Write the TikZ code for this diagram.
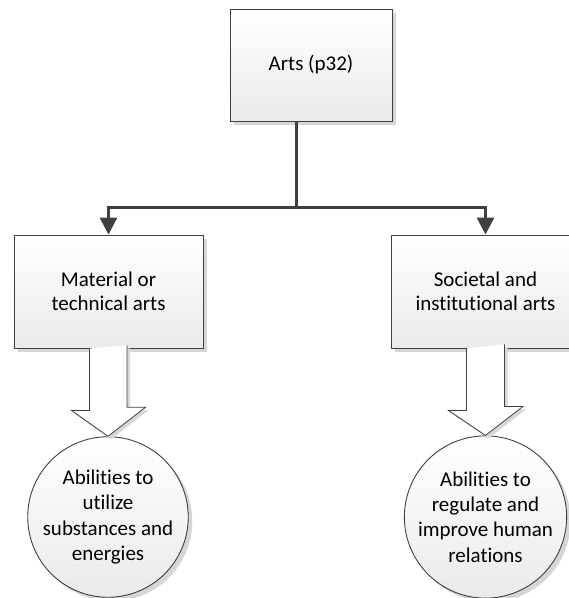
\documentclass[tikz,border=0pt]{standalone}
\usepackage{fontspec}
\setmainfont{Carlito}[Ligatures=NoCommon]
\usetikzlibrary{arrows.meta,shadows}

\definecolor{edgegray}{HTML}{404040}
\definecolor{shadowgray}{HTML}{D6D6D6}
\definecolor{fillbottom}{HTML}{EAEAEA}

\tikzset{
  boxshade/.style={top color=white, bottom color=fillbottom,
    draw=edgegray, line width=0.9pt,
    drop shadow={shadow xshift=4pt, shadow yshift=-4pt, fill=shadowgray, opacity=1}},
  rectbox/.style={boxshade, rectangle, inner sep=0pt, align=center,
    font=\fontsize{21}{24}\selectfont},
  roundbox/.style={boxshade, circle, inner sep=0pt, align=center,
    minimum size=159pt, font=\fontsize{21}{25.4}\selectfont},
  conn/.style={draw=edgegray, line width=3pt,
    -{Triangle[width=17pt,length=17pt]}},
  hollow/.style={draw=edgegray, line width=0.8pt, fill=white, line join=miter,
    drop shadow={shadow xshift=3pt, shadow yshift=-3pt, fill=shadowgray, opacity=1}}
}

\begin{document}
\begin{tikzpicture}[x=1pt, y=-1pt]
  \useasboundingbox (0,0) rectangle (569,598);

  % boxes
  \node[rectbox, minimum width=162pt, minimum height=112pt] (arts) at (311,65) {Arts (p32)};
  \node[rectbox, minimum width=189pt, minimum height=113pt] (material) at (108.5,291.5)
    {Material or\\technical arts};
  \node[rectbox, minimum width=189pt, minimum height=113pt] (societal) at (485.5,291.5)
    {Societal and\\institutional arts};

  % circles
  \node[roundbox] (utilize) at (108,517) {Abilities to\\utilize\\substances and\\energies};
  \node[roundbox] (regulate) at (485.5,517) {Abilities to\\regulate and\\improve human\\relations};

  % branching connectors
  \coordinate (fork) at (296.5,207.5);
  \draw[conn] (arts.south -| fork) -- (fork) -| (material.north);
  \draw[conn] (arts.south -| fork) -- (fork) -| (societal.north);

  % hollow block arrows
  \draw[hollow] (material.south) ++(-19,0) -- ++(0,62) -- ++(-18,0)
    -- (utilize.north) -- ++(37.5,-29) -- ++(-18.5,0) -- ++(0,-62);
  \draw[hollow] (societal.south) ++(-19,0) -- ++(0,62) -- ++(-18,0)
    -- (regulate.north) -- ++(37.5,-29) -- ++(-18.5,0) -- ++(0,-62);
\end{tikzpicture}
\end{document}
